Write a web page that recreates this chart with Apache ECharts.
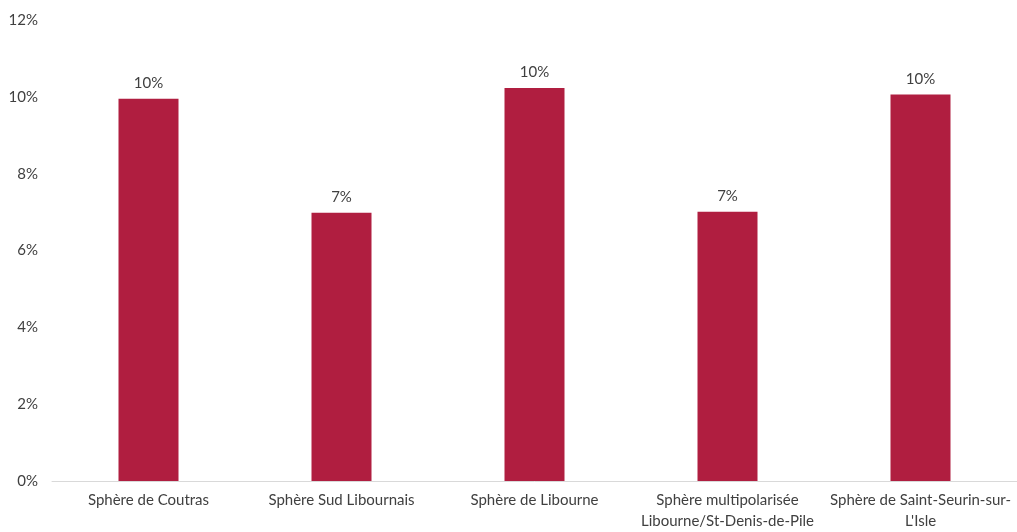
<!DOCTYPE html>
<html>
<head>
<meta charset="utf-8">
<script src="https://cdn.jsdelivr.net/npm/echarts@6/dist/echarts.min.js"></script>
<style>html,body{margin:0;padding:0;background:#fff;overflow:hidden}#c{width:1017px;height:532px}</style>
</head>
<body>
<div id="c"></div>
<script>
var categories = ["Sphère de Coutras", "Sphère Sud Libournais", "Sphère de Libourne", "Sphère multipolarisée\nLibourne/St-Denis-de-Pile", "Sphère de Saint-Seurin-sur-\nL'Isle"];
var values = [9.95, 6.98, 10.23, 7.01, 10.06];
var yTicks = { min: 0, max: 12, interval: 2 };

var chart = echarts.init(document.getElementById('c'));
var font = 'Lato, "Open Sans", sans-serif';
chart.setOption({
  animation: false,
  grid: { left: 52, top: 20, bottom: 44, width: 968, containLabel: false },
  xAxis: {
    type: 'category',
    data: categories,
    axisLine: { lineStyle: { color: '#d9d9d9', width: 1 } },
    axisTick: { show: false },
    axisLabel: { color: '#404040', fontSize: 15, fontFamily: font, lineHeight: 21, margin: 9, interval: 0 }
  },
  yAxis: {
    type: 'value',
    min: yTicks.min, max: yTicks.max, interval: yTicks.interval,
    axisLine: { show: false },
    axisTick: { show: false },
    splitLine: { show: false },
    axisLabel: { color: '#404040', fontSize: 15, fontFamily: font, margin: 14, formatter: '{value}%' }
  },
  series: [{
    type: 'bar',
    data: values,
    barWidth: 60,
    itemStyle: { color: '#B01E40' },
    label: {
      show: true, position: 'top', distance: 8,
      color: '#404040', fontSize: 15, fontFamily: font,
      formatter: function (p) { return Math.round(p.value) + '%'; }
    }
  }]
});
</script>
</body>
</html>
